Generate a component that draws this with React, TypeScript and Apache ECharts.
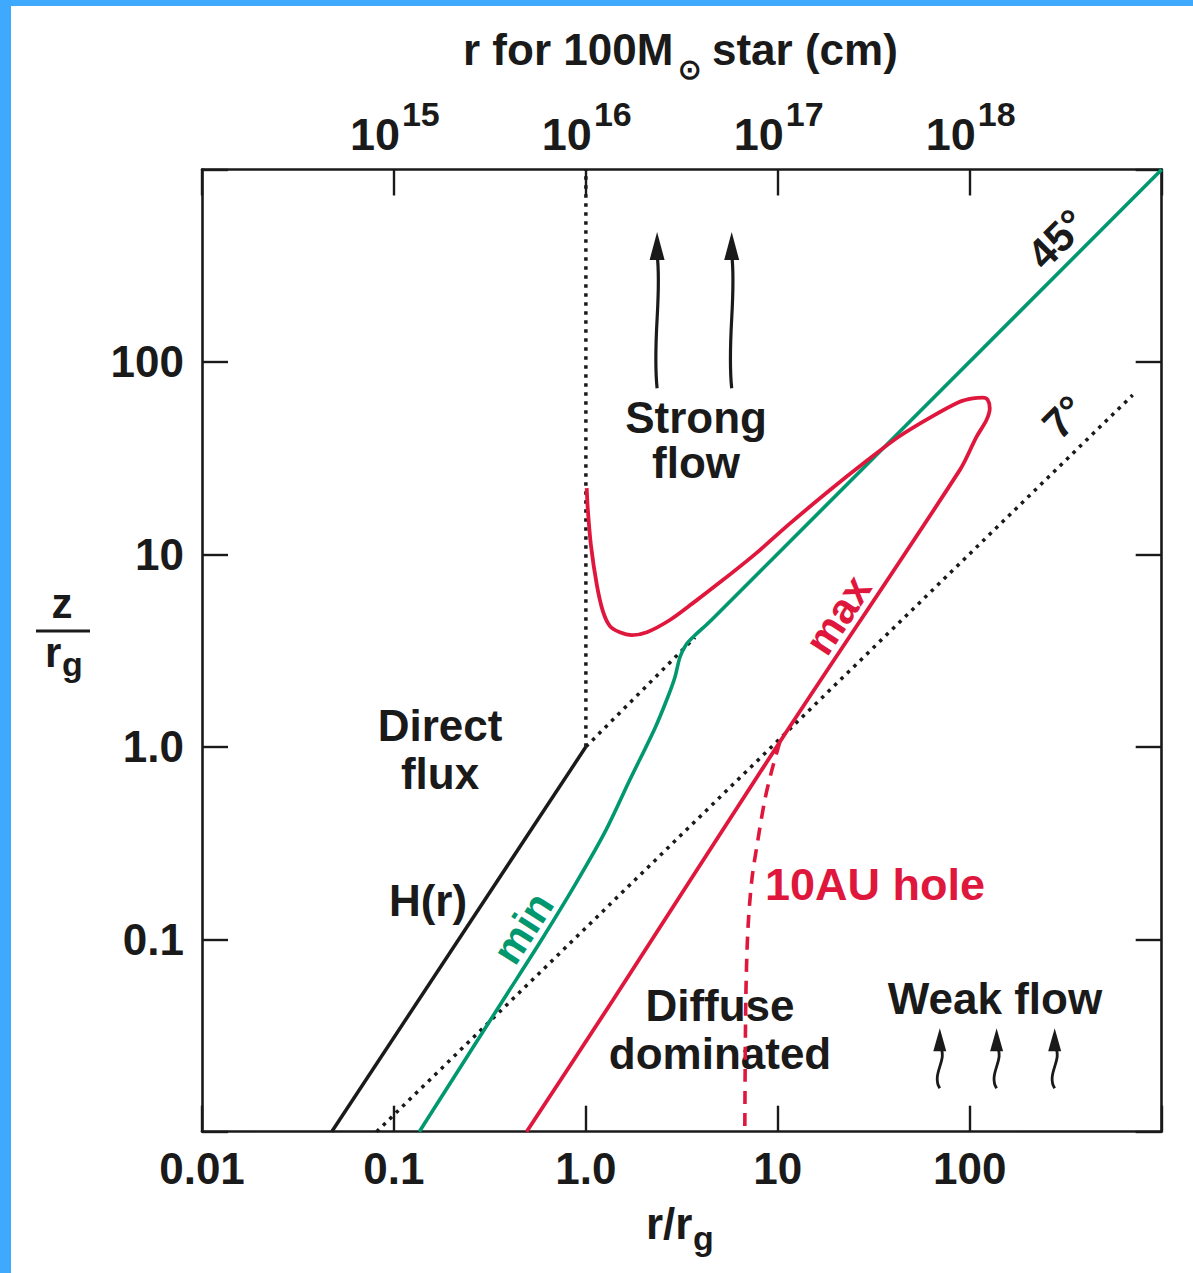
import React, { useEffect, useRef } from "react";
import * as echarts from "echarts";

const FONT = "'Liberation Sans', Arial, Helvetica, sans-serif";
const INK = "#1a1a1a";
const GREEN = "#02986F";
const RED = "#E0173D";
const BLUE = "#3EA9FD";

// tick labels
const xTickExponents = [-2, -1, 0, 1, 2];
const xTickLabels = ["0.01", "0.1", "1.0", "10", "100"];
const yTickExponents = [-1, 0, 1, 2];
const yTickLabels = ["0.1", "1.0", "10", "100"];
const topTickExponents = [-1, 0, 1, 2];
const topTickPowers = ["15", "16", "17", "18"];

// H(r) disc scale height
const hR = [0.0474, 1.0];
const hZ = [0.01, 1.0];

// "min" curve
const minR = [0.1355, 0.37, 0.59, 0.876, 1.256, 1.69, 2.29, 2.67, 2.91, 3.09, 3.32, 3.61, 4.5, 1000];
const minZ = [0.01, 0.0482, 0.1, 0.191, 0.36, 0.67, 1.25, 1.81, 2.3, 2.92, 3.38, 3.71, 4.55, 1000];

// "max" curve (loop)
const maxR = [0.491, 1.382, 10.24, 88.7, 108.4, 122.2, 127.1, 124.1, 116.9, 103.7, 88.7, 64.1, 43.2, 29.4, 18.7, 11.5, 7.59, 5.17, 3.61, 2.74, 2.08, 1.736, 1.503, 1.334, 1.226, 1.141, 1.062, 1.024, 1.01];
const maxZ = [0.01, 0.0482, 1.06, 27.4, 40.8, 49.9, 57.5, 63.4, 65.2, 64.7, 62.1, 52.3, 41.2, 30.9, 21.6, 14.4, 10.0, 7.35, 5.58, 4.56, 3.94, 3.81, 3.94, 4.24, 5.07, 6.92, 11.2, 17.0, 22.1];

// 10 AU hole (dashed)
const holeR = [10.24, 9.31, 8.55, 7.87, 7.32, 6.98, 6.81, 6.73];
const holeZ = [1.06, 0.757, 0.528, 0.327, 0.203, 0.111, 0.048, 0.01];

// guide lines
const sevenR = [0.0812, 706];
const sevenZ = [0.01, 67.3];
const diagR = [1, 3.7];
const diagZ = [1, 3.7];
const vertR = [1, 1];
const vertZ = [1, 1000];

// flow arrows [r, zBottom, zTip]
const strongArrowR = [2.35, 5.75];
const strongArrowZ = [73, 473];
const weakArrowR = [69.8, 138, 277];
const weakArrowZ = [0.0168, 0.0345];

const zip = (a: number[], b: number[]) => a.map((v, i) => [v, b[i]]);

const labelFor = (exps: number[], labels: string[]) => (v: number) => {
  const e = Math.round(Math.log10(v));
  const i = exps.indexOf(e);
  return i >= 0 ? labels[i] : "";
};

function arrowRenderer(headW: number, headH: number, lineW: number, wiggle: number) {
  return (params: any, api: any) => {
    const x = api.value(0);
    const p0 = api.coord([x, api.value(1)]);
    const p1 = api.coord([x, api.value(2)]);
    const top = p1[1] + headH * 0.8;
    const L = p0[1] - top;
    return {
      type: "group",
      children: [
        {
          type: "bezierCurve",
          shape: {
            x1: p0[0], y1: p0[1], x2: p0[0], y2: top,
            cpx1: p0[0] - wiggle, cpy1: p0[1] - L * 0.35,
            cpx2: p0[0] + wiggle, cpy2: p0[1] - L * 0.7,
          },
          style: { stroke: INK, lineWidth: lineW, fill: null },
        },
        {
          type: "polygon",
          shape: {
            points: [
              [p1[0], p1[1]],
              [p1[0] - headW / 2, p1[1] + headH],
              [p1[0] + headW / 2, p1[1] + headH],
            ],
          },
          style: { fill: INK },
        },
      ],
    };
  };
}

const txt = (
  text: string, x: number, y: number,
  opts: { size?: number; color?: string; align?: string; rotation?: number } = {}
) => ({
  type: "text",
  x, y,
  rotation: opts.rotation || 0,
  silent: true,
  style: {
    text,
    fill: opts.color || INK,
    font: `bold ${opts.size || 44}px ${FONT}`,
    align: opts.align || "center",
    verticalAlign: "middle",
    textAlign: opts.align || "center",
    textVerticalAlign: "middle",
  },
});

export default function App() {
  const ref = useRef<HTMLDivElement>(null);
  useEffect(() => {
    if (!ref.current) return;
    const chart = echarts.init(ref.current, null, { renderer: "svg" });
    const axisCommon = {
      type: "log",
      logBase: 10,
      min: 0.01,
      max: 1000,
      axisLine: { show: true, lineStyle: { color: INK, width: 2.6 } },
      axisTick: { show: true, inside: true, length: 26, lineStyle: { color: INK, width: 2.4 } },
      splitLine: { show: false },
      minorTick: { show: false },
      minorSplitLine: { show: false },
    };
    const labelCommon = {
      fontFamily: FONT,
      fontWeight: "bold",
      fontSize: 44,
      color: INK,
    };
    const dotted = { color: INK, width: 3.5, type: [3.5, 5.5], cap: "butt" };
    const baseGraphics: any[] = [
      { type: "rect", shape: { x: 0, y: 0, width: 11, height: 1273 }, style: { fill: BLUE }, silent: true },
      { type: "rect", shape: { x: 0, y: 0, width: 1193, height: 6 }, style: { fill: BLUE }, silent: true },
      // top title
      txt("r for 100M", 463, 49.5, { align: "left" }),
      txt("\u2299", 678, 69, { align: "left", size: 28 }),
      txt("star (cm)", 712, 49.5, { align: "left" }),
      // y axis name z / r_g
      txt("z", 62, 603, { size: 42 }),
      { type: "rect", shape: { x: 36, y: 629.5, width: 54, height: 3 }, style: { fill: INK }, silent: true },
      txt("r", 45, 652, { size: 42, align: "left" }),
      txt("g", 62, 664, { size: 34, align: "left" }),
      // x axis name r / r_g
      txt("r/r", 646, 1223, { align: "left" }),
      txt("g", 693, 1238, { size: 34, align: "left" }),
      // annotations
      txt("Strong", 696, 417),
      txt("flow", 696, 462),
      txt("Direct", 440, 725),
      txt("flux", 440, 773),
      txt("H(r)", 428, 900),
      txt("10AU hole", 765, 884, { align: "left", color: RED, size: 45 }),
      txt("Diffuse", 720, 1005),
      txt("dominated", 720, 1053),
      txt("Weak flow", 995, 998),
      txt("45\u00b0", 1057, 239, { rotation: Math.PI / 4, size: 42 }),
      txt("7\u00b0", 1064, 417, { rotation: Math.PI / 4, size: 42 }),
      txt("max", 838, 615, { rotation: 0.99, color: RED, size: 42 }),
      txt("min", 523, 928, { rotation: 1.0, color: GREEN, size: 42 }),
    ];
    const option: any = {
      animation: false,
      backgroundColor: "#ffffff",
      grid: { left: 202, right: 31.3, top: 169.5, bottom: 141.3, show: false },
      xAxis: [
        {
          ...axisCommon,
          position: "bottom",
          axisLabel: { ...labelCommon, margin: 15, formatter: labelFor(xTickExponents, xTickLabels) },
        },
        {
          ...axisCommon,
          position: "top",
          axisLabel: { show: false },
        },
      ],
      yAxis: [
        {
          ...axisCommon,
          position: "left",
          axisLabel: { ...labelCommon, margin: 18, formatter: labelFor(yTickExponents, yTickLabels) },
        },
        {
          ...axisCommon,
          position: "right",
          axisLabel: { show: false },
        },
      ],
      series: [
        { type: "line", data: zip(vertR, vertZ), symbol: "none", silent: true, lineStyle: dotted },
        { type: "line", data: zip(diagR, diagZ), symbol: "none", silent: true, lineStyle: dotted },
        { type: "line", data: zip(sevenR, sevenZ), symbol: "none", silent: true, lineStyle: dotted },
        { type: "line", data: zip(hR, hZ), symbol: "none", silent: true, lineStyle: { color: INK, width: 3.5 } },
        { type: "line", data: zip(minR, minZ), symbol: "none", silent: true, smooth: 0.3, lineStyle: { color: GREEN, width: 3.6 } },
        { type: "line", data: zip(maxR, maxZ), symbol: "none", silent: true, smooth: 0.3, lineStyle: { color: RED, width: 3.8 } },
        { type: "line", data: zip(holeR, holeZ), symbol: "none", silent: true, smooth: 0.3, lineStyle: { color: RED, width: 3.6, type: [13, 9] } },
        {
          type: "custom",
          coordinateSystem: "cartesian2d",
          clip: false,
          silent: true,
          renderItem: arrowRenderer(15, 28, 3.2, 5),
          data: strongArrowR.map((r) => [r, strongArrowZ[0], strongArrowZ[1]]),
        },
        {
          type: "custom",
          coordinateSystem: "cartesian2d",
          clip: false,
          silent: true,
          renderItem: arrowRenderer(13, 23, 2.8, 9),
          data: weakArrowR.map((r) => [r, weakArrowZ[0], weakArrowZ[1]]),
        },
      ],
      graphic: { elements: baseGraphics },
    };
    chart.setOption(option);

    // top axis labels (10^n cm) placed at the top axis tick positions
    const topLabels: any[] = [];
    topTickExponents.forEach((e, i) => {
      const px = chart.convertToPixel({ xAxisIndex: 1 }, Math.pow(10, e)) as number;
      topLabels.push(txt("10", px + 6, 134.5, { align: "right", size: 45 }));
      topLabels.push(txt(topTickPowers[i], px + 8, 113.5, { align: "left", size: 34 }));
    });
    chart.setOption({ graphic: { elements: [...baseGraphics, ...topLabels] } });

    return () => chart.dispose();
  }, []);
  return (
    <div
      ref={ref}
      style={{ position: "absolute", left: 0, top: 0, width: 1193, height: 1273, background: "#fff" }}
    />
  );
}
